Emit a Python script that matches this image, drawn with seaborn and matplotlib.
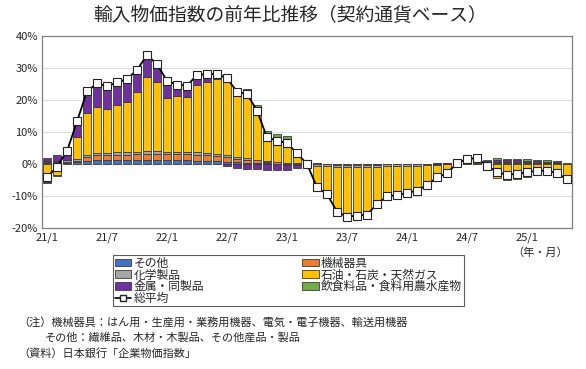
import numpy as np
import pandas as pd
import matplotlib
matplotlib.use('Agg')
import matplotlib.pyplot as plt
import seaborn as sns
from matplotlib.patches import Patch
from matplotlib.lines import Line2D

# months 21/1 .. 25/5
months = pd.period_range('2021-01', '2025-05', freq='M')
tick_labels = ['21/1', '21/7', '22/1', '22/7', '23/1', '23/7', '24/1', '24/7', '25/1']

# contributions (percentage points)
other = [0.3, 0.3, 0.4, 0.5, 1.0, 1.2, 1.2, 1.2, 1.3, 1.3, 1.3, 1.3,
         1.2, 1.2, 1.1, 1.0, 0.9, 0.8, 0.6, 0.5, 0.4, 0.3, 0.2, 0.1,
         0.1, 0.0, 0.0, -0.1, -0.1, -0.1, -0.1, -0.1, -0.1, -0.1, -0.1, -0.1,
         -0.1, -0.1, 0.0, 0.0, 0.0, 0.0, 0.1, 0.1, 0.1, 0.1, 0.1, 0.1,
         0.1, 0.1, 0.1, 0.1, 0.0]
machinery = [0.2, 0.2, 0.3, 0.5, 1.2, 1.5, 1.5, 1.6, 1.6, 1.7, 1.8, 1.8,
             1.8, 1.8, 1.9, 1.9, 1.8, 1.7, 1.5, 1.2, 1.0, 0.8, 0.5, 0.4,
             0.3, 0.2, 0.1, 0.0, 0.0, -0.1, -0.1, -0.1, -0.1, -0.1, 0.0, 0.0,
             0.0, 0.0, 0.0, 0.1, 0.1, 0.2, 0.2, 0.2, 0.2, 0.3, 0.3, 0.3,
             0.3, 0.2, 0.2, 0.2, 0.1]
chemicals = [0.3, 0.3, 0.4, 0.5, 0.6, 0.7, 0.8, 0.8, 0.8, 0.9, 0.9, 0.9,
             0.8, 0.7, 0.7, 0.7, 0.6, 0.6, 0.6, 0.5, 0.4, 0.3, 0.1, 0.0,
             -0.2, -0.3, -0.3, -0.4, -0.5, -0.6, -0.7, -0.7, -0.7, -0.6, -0.5, -0.5,
             -0.4, -0.4, -0.3, -0.2, -0.1, 0.0, 0.1, 0.1, 0.1, 0.1, 0.1, 0.1,
             0.1, 0.1, 0.1, 0.1, 0.0]
oil = [-5.5, -3.4, 0.2, 7.0, 13.0, 14.5, 13.8, 14.9, 15.8, 18.6, 23.3, 21.5,
       16.7, 17.5, 17.3, 21.2, 22.3, 23.4, 23.3, 20.3, 20.4, 15.8, 8.4, 7.8,
       7.1, 3.6, 0.3, -6.5, -8.3, -13.6, -15.0, -14.6, -14.4, -11.2, -9.1, -8.7,
       -8.3, -7.5, -6.1, -4.2, -3.2, -0.4, 0.8, 1.0, -1.6, -4.4, -5.0, -4.8,
       -4.1, -3.4, -3.3, -3.9, -5.0]
metals = [1.0, 2.0, 2.7, 4.5, 6.4, 6.6, 6.3, 6.2, 6.2, 6.0, 5.7, 4.7,
          4.4, 2.5, 2.4, 1.8, 1.2, 0.2, -0.6, -1.1, -1.5, -1.7, -2.0, -2.0,
          -1.8, -0.8, -0.5, -0.5, -0.5, -0.4, -0.4, -0.4, -0.4, -0.3, -0.3, -0.3,
          -0.2, -0.2, -0.1, 0.1, 0.3, 0.4, 0.3, 0.3, 0.4, 0.8, 0.7, 0.7,
          0.5, 0.4, 0.3, 0.2, -0.1]
food = [-0.5, -0.2, 0.0, 0.3, 0.5, 0.7, 0.7, 0.8, 0.8, 0.9, 1.0, 1.0,
        1.1, 1.1, 1.1, 1.2, 1.3, 1.4, 1.4, 1.2, 1.2, 1.2, 1.1, 1.0,
        1.2, 0.7, 0.4, 0.2, 0.0, -0.1, -0.2, -0.2, -0.2, -0.2, -0.1, -0.1,
        -0.1, -0.1, -0.1, 0.0, 0.0, 0.0, 0.1, 0.1, 0.3, 0.5, 0.5, 0.5,
        0.5, 0.5, 0.5, 0.4, 0.3]
total = [-4.2, -0.8, 4.0, 13.3, 22.7, 25.2, 24.3, 25.5, 26.5, 29.4, 34.0, 31.2,
         26.0, 24.8, 24.5, 27.8, 28.1, 28.1, 26.8, 22.6, 21.9, 16.7, 8.3, 7.3,
         6.5, 3.4, 0.0, -7.3, -9.4, -14.9, -16.5, -16.1, -15.9, -12.5, -10.1, -9.7,
         -9.1, -8.3, -6.6, -4.2, -2.9, 0.2, 1.6, 1.8, -0.5, -2.6, -3.3, -3.1,
         -2.6, -2.1, -2.1, -2.9, -4.7]

series = {
    'その他': (other, '#4472C4'),
    '機械器具': (machinery, '#ED7D31'),
    '化学製品': (chemicals, '#A5A5A5'),
    '石油・石炭・天然ガス': (oil, '#FFC000'),
    '金属・同製品': (metals, '#7030A0'),
    '飲食料品・食料用農水産物': (food, '#70AD47'),
}

sns.set_style('white')
plt.rcParams['font.family'] = ['Noto Sans CJK JP', 'DejaVu Sans']

fig = plt.figure(figsize=(5.86, 3.69), dpi=100)
ax = fig.add_axes([42 / 586, 1 - 228 / 369, 530 / 586, 192 / 369])

x = np.arange(len(months))
pos_base = np.zeros(len(x))
neg_base = np.zeros(len(x))
for name, (vals, color) in series.items():
    v = np.array(vals, dtype=float)
    bottom = np.where(v >= 0, pos_base, neg_base)
    ax.bar(x, v, bottom=bottom, width=0.8, color=color,
           edgecolor='#3a3a3a', linewidth=0.6, zorder=2)
    pos_base += np.clip(v, 0, None)
    neg_base += np.clip(v, None, 0)

df = pd.DataFrame({'x': x, 'total': total})
sns.lineplot(data=df, x='x', y='total', ax=ax, color='black', linewidth=1.3,
             marker='s', markersize=5.5, markerfacecolor='white',
             markeredgecolor='#222222', markeredgewidth=0.8, zorder=3)

ax.set_xlim(-0.5, len(x) - 0.5)
ax.set_ylim(-20, 40)
ax.set_yticks(range(-20, 41, 10))
ax.set_yticklabels([f'{t}%' for t in range(-20, 41, 10)], fontsize=8)
ax.set_xticks(range(0, len(x), 6))
ax.set_xticklabels(tick_labels, fontsize=8)
ax.tick_params(axis='both', length=0, pad=3)
ax.set_xlabel('')
ax.set_ylabel('')
ax.yaxis.grid(True, color='#dedede', linewidth=0.8, zorder=0)
ax.set_axisbelow(True)
for s in ax.spines.values():
    s.set_color('#808080')
    s.set_linewidth(0.9)

fig.text(0.495, 1 - 15 / 369, '輸入物価指数の前年比推移（契約通貨ベース）',
         ha='center', va='center', fontsize=13.5)
fig.text(540 / 586, 1 - 253 / 369, '（年・月）', ha='center', va='center', fontsize=8)

# legend: column-major fill
names = list(series.keys())
patch = {n: Patch(facecolor=series[n][1], edgecolor='#3a3a3a', linewidth=0.6) for n in names}
line_h = Line2D([], [], color='black', linewidth=1.2, marker='s', markersize=4.5,
                markerfacecolor='white', markeredgecolor='#222222')
handles = [patch['その他'], patch['化学製品'], patch['金属・同製品'], line_h,
           patch['機械器具'], patch['石油・石炭・天然ガス'], patch['飲食料品・食料用農水産物']]
labels = ['その他', '化学製品', '金属・同製品', '総平均',
          '機械器具', '石油・石炭・天然ガス', '飲食料品・食料用農水産物']
leg = fig.legend(handles, labels, ncol=2, loc='upper left',
                 bbox_to_anchor=(113 / 586, 1 - 255 / 369),
                 fontsize=8.5, frameon=True, fancybox=False, borderpad=0.15,
                 labelspacing=-0.12, handlelength=1.4, handleheight=0.6,
                 handletextpad=0.2, columnspacing=8.3, borderaxespad=0)
leg.get_frame().set_edgecolor('#333333')
leg.get_frame().set_linewidth(0.8)

fig.text(18 / 586, 1 - 322 / 369, '（注）機械器具：はん用・生産用・業務用機器、電気・電子機器、輸送用機器',
         ha='left', va='center', fontsize=8)
fig.text(45 / 586, 1 - 338 / 369, 'その他：繊維品、木材・木製品、その他産品・製品',
         ha='left', va='center', fontsize=8)
fig.text(18 / 586, 1 - 354 / 369, '（資料）日本銀行「企業物価指数」',
         ha='left', va='center', fontsize=8)

fig.savefig('out.png', dpi=100)
